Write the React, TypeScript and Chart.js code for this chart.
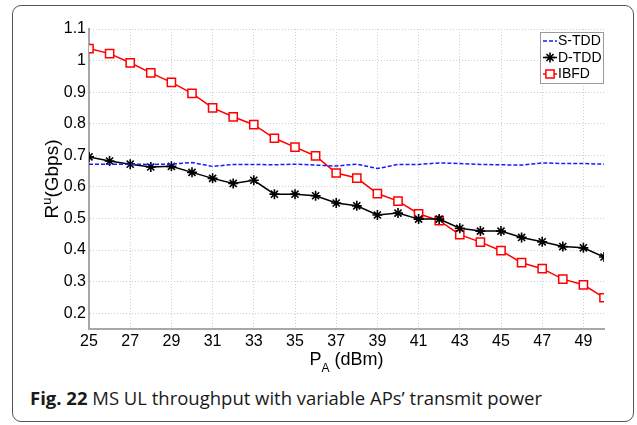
import React, { useEffect, useRef } from "react";
import { Chart, registerables } from "chart.js";

Chart.register(...registerables);

const powerDbm = [25, 26, 27, 28, 29, 30, 31, 32, 33, 34, 35, 36, 37, 38, 39, 40, 41, 42, 43, 44, 45, 46, 47, 48, 49, 50];
const sTdd = [0.672, 0.672, 0.672, 0.671, 0.672, 0.677, 0.665, 0.671, 0.671, 0.670, 0.672, 0.669, 0.666, 0.672, 0.658, 0.671, 0.671, 0.676, 0.674, 0.671, 0.670, 0.669, 0.676, 0.674, 0.674, 0.672];
const dTdd = [0.695, 0.682, 0.672, 0.663, 0.665, 0.646, 0.627, 0.611, 0.621, 0.577, 0.577, 0.572, 0.549, 0.540, 0.511, 0.517, 0.498, 0.498, 0.469, 0.460, 0.460, 0.440, 0.426, 0.411, 0.407, 0.378];
const ibfd = [1.038, 1.022, 0.993, 0.961, 0.931, 0.896, 0.850, 0.822, 0.797, 0.754, 0.726, 0.698, 0.644, 0.628, 0.579, 0.555, 0.515, 0.493, 0.449, 0.425, 0.398, 0.360, 0.341, 0.308, 0.290, 0.249];
const seriesNames = ["S-TDD", "D-TDD", "IBFD"];
const xTickValues = [25, 27, 29, 31, 33, 35, 37, 39, 41, 43, 45, 47, 49];
const yTickValues = [0.2, 0.3, 0.4, 0.5, 0.6, 0.7, 0.8, 0.9, 1.0, 1.1];
const captionBold = "Fig. 22";
const captionText = " MS UL throughput with variable APs\u2019 transmit power";

const FONT = "'Liberation Sans', Arial, sans-serif";

const toPoints = (ys: number[]) => ys.map((y, i) => ({ x: powerDbm[i], y }));

const legendPlugin = {
  id: "insideLegend",
  afterDraw(chart: any) {
    const { ctx, chartArea } = chart;
    const right = chartArea.right - 1;
    const left = right - 63;
    const top = chartArea.top + 3;
    const h = 51;
    ctx.save();
    ctx.fillStyle = "#ffffff";
    ctx.fillRect(left, top, right - left, h);
    ctx.strokeStyle = "#9a9a9a";
    ctx.lineWidth = 1;
    ctx.strokeRect(left + 0.5, top + 0.5, right - left, h);
    chart.data.datasets.forEach((ds: any, i: number) => {
      const y = top + 9 + i * 16.5;
      const x0 = left + 3;
      const x1 = left + 17;
      ctx.save();
      ctx.strokeStyle = ds.borderColor;
      ctx.lineWidth = ds.borderWidth;
      ctx.setLineDash(ds.borderDash || []);
      ctx.beginPath();
      ctx.moveTo(x0, y);
      ctx.lineTo(x1, y);
      ctx.stroke();
      ctx.restore();
      if (ds.pointStyle && ds.pointRadius > 0) {
        const meta = chart.getDatasetMeta(i);
        const el = meta.data[0];
        if (el) {
          const saveX = el.x;
          const saveY = el.y;
          el.x = (x0 + x1) / 2;
          el.y = y;
          el.draw(ctx, chart.chartArea);
          el.x = saveX;
          el.y = saveY;
        }
      }
      ctx.fillStyle = "#000";
      ctx.font = `14px ${FONT}`;
      ctx.textAlign = "left";
      ctx.textBaseline = "middle";
      ctx.fillText(ds.label, x1 + 1, y + 0.5);
    });
    ctx.restore();
  },
};

const axisTitlePlugin = {
  id: "axisTitles",
  afterDraw(chart: any) {
    const { ctx, chartArea } = chart;
    ctx.save();
    ctx.fillStyle = "#000";
    ctx.textBaseline = "alphabetic";
    // y title: R^u(Gbps)
    const bigY = `19px ${FONT}`;
    const smallY = `13px ${FONT}`;
    ctx.font = bigY;
    const wR = ctx.measureText("R").width;
    const wRest = ctx.measureText("(Gbps)").width;
    ctx.font = smallY;
    const wU = ctx.measureText("u").width;
    const total = wR + wU + wRest;
    ctx.translate(58, 179);
    ctx.rotate(-Math.PI / 2);
    let x = -total / 2;
    ctx.textAlign = "left";
    ctx.font = bigY;
    ctx.fillText("R", x, 0);
    x += wR;
    ctx.font = smallY;
    ctx.fillText("u", x, -7);
    x += wU;
    ctx.font = bigY;
    ctx.fillText("(Gbps)", x, 0);
    ctx.setTransform(1, 0, 0, 1, 0, 0);
    // x title: P_A (dBm)
    const big = `18px ${FONT}`;
    const small = `12px ${FONT}`;
    ctx.font = big;
    const wP = ctx.measureText("P").width;
    const wD = ctx.measureText(" (dBm)").width;
    ctx.font = small;
    const wA = ctx.measureText("A").width;
    const tot2 = wP + wA + wD;
    const cx = (chartArea.left + chartArea.right) / 2;
    let xx = cx - tot2 / 2;
    const by = 365;
    ctx.font = big;
    ctx.fillText("P", xx, by);
    xx += wP;
    ctx.font = small;
    ctx.fillText("A", xx, by + 7);
    xx += wA;
    ctx.font = big;
    ctx.fillText(" (dBm)", xx, by);
    ctx.restore();
  },
};

export default function App() {
  const canvasRef = useRef<HTMLCanvasElement>(null);
  const capRef = useRef<HTMLSpanElement>(null);

  useEffect(() => {
    document.body.style.margin = "0";
    const cap = capRef.current;
    if (cap) {
      const w = cap.getBoundingClientRect().width;
      if (w > 0) cap.style.transform = `scaleX(${512 / w})`;
    }
    const canvas = canvasRef.current!;
    const gridColor = "#cfcfcf";
    const chart = new Chart(canvas, {
      type: "line",
      data: {
        datasets: [
          {
            label: seriesNames[0],
            data: toPoints(sTdd),
            borderColor: "#1a1aff",
            borderWidth: 1.5,
            borderDash: [4, 2],
            pointRadius: 0,
            pointStyle: false as any,
            tension: 0,
          },
          {
            label: seriesNames[1],
            data: toPoints(dTdd),
            borderColor: "#000000",
            borderWidth: 1.5,
            pointStyle: "star",
            pointRadius: 5,
            pointBorderWidth: 1.6,
            pointBorderColor: "#000000",
            pointBackgroundColor: "#000000",
            tension: 0,
          },
          {
            label: seriesNames[2],
            data: toPoints(ibfd),
            borderColor: "#ff0000",
            borderWidth: 1.5,
            pointStyle: "rect",
            pointRadius: 5.8,
            pointBorderWidth: 1.5,
            pointBorderColor: "#ff0000",
            pointBackgroundColor: "#ffffff",
            tension: 0,
          },
        ],
      },
      options: {
        responsive: false,
        animation: false,
        devicePixelRatio: 1,
        layout: { padding: { left: 0, right: 33, top: 29, bottom: 0 } },
        plugins: { legend: { display: false }, tooltip: { enabled: false } },
        scales: {
          x: {
            type: "linear",
            min: 25,
            max: 50,
            afterBuildTicks: (s: any) => {
              s.ticks = xTickValues.map((v) => ({ value: v }));
            },
            afterFit: (s: any) => {
              s.height = 46;
            },
            ticks: {
              font: { family: FONT, size: 16 },
              color: "#000",
              padding: 3,
              maxRotation: 0,
              autoSkip: false,
              callback: (v: any) => String(v),
            },
            grid: { color: gridColor, lineWidth: 1, drawTicks: false },
            border: { display: true, color: "#a8a8a8", width: 2, dash: [1, 2] },
          },
          y: {
            type: "linear",
            min: 0.15,
            max: 1.1,
            afterBuildTicks: (s: any) => {
              s.ticks = yTickValues.map((v) => ({ value: v }));
            },
            afterFit: (s: any) => {
              s.width = 89;
            },
            ticks: {
              font: { family: FONT, size: 16 },
              color: "#000",
              padding: 3,
              autoSkip: false,
              callback: (v: any) => String(parseFloat(Number(v).toFixed(1))),
            },
            grid: { color: gridColor, lineWidth: 1, drawTicks: false },
            border: { display: true, color: "#a8a8a8", width: 2, dash: [1, 2] },
          },
        },
      },
      plugins: [legendPlugin, axisTitlePlugin],
    });
    return () => chart.destroy();
  }, []);

  return (
    <div style={{ position: "relative", width: 637, height: 425, background: "#fff", overflow: "hidden" }}>
      <div
        style={{
          position: "absolute",
          left: 12,
          top: 5,
          width: 622,
          height: 417,
          border: "1.5px solid #555",
          borderRadius: 9,
          boxSizing: "border-box",
        }}
      />
      <canvas
        ref={canvasRef}
        width={637}
        height={375}
        style={{ position: "absolute", left: 0, top: 0, width: 637, height: 375 }}
      />
      <div style={{ position: "absolute", left: 30, top: 385, whiteSpace: "nowrap", lineHeight: "26px" }}>
        <span
          ref={capRef}
          style={{
            display: "inline-block",
            transformOrigin: "0 0",
            fontFamily: "'Open Sans', 'Noto Sans', sans-serif",
            fontSize: 18,
            color: "#1a1a1a",
          }}
        >
          <b>{captionBold}</b>
          {captionText}
        </span>
      </div>
    </div>
  );
}
